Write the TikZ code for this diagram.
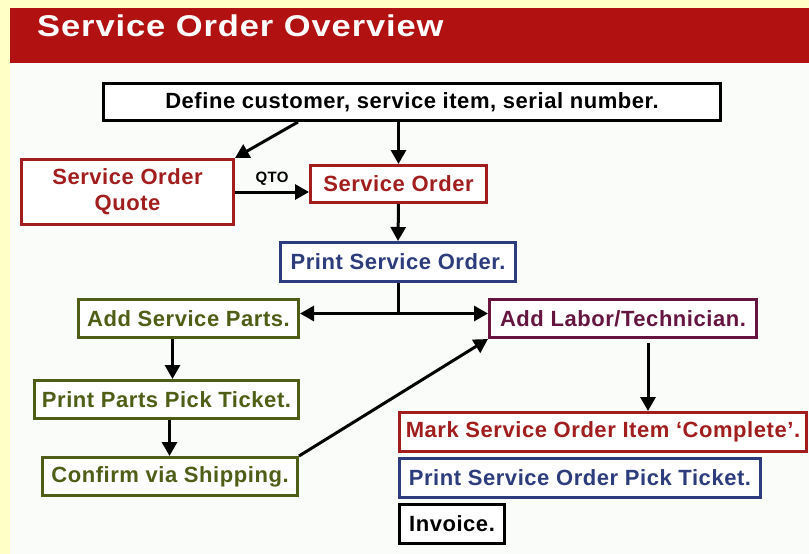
\documentclass[tikz,border=0pt]{standalone}
\usepackage{fontspec}
\setmainfont[LetterSpace=2.5]{Liberation Sans}
\newfontfamily\titlefont[FakeStretch=1.15,LetterSpace=3]{Liberation Sans}
\usetikzlibrary{arrows.meta}
\definecolor{sored}{HTML}{A21D1D}
\definecolor{barred}{HTML}{B21111}
\definecolor{sonavy}{HTML}{2C3C7C}
\definecolor{soolive}{HTML}{4E5E16}
\definecolor{somaroon}{HTML}{651540}
\definecolor{pale}{HTML}{FFFFC6}
\definecolor{paper}{HTML}{FAFCFA}

\begin{document}
\begin{tikzpicture}[x=1pt,y=-1pt,
	every node/.style={font=\bfseries\fontsize{22}{26}\selectfont, inner sep=0pt},
	box/.style={draw, line width=3pt, fill=white, minimum height=38pt, align=center},
	redbox/.style={box, draw=sored, text=sored},
	navybox/.style={box, draw=sonavy, text=sonavy},
	olivebox/.style={box, draw=soolive, text=soolive},
	maroonbox/.style={box, draw=somaroon, text=somaroon},
	arr/.style={line width=3pt, -{Triangle[length=14pt,width=15pt]}}]
	\useasboundingbox (0,0) rectangle (809,554);
	\fill[pale] (0,0) rectangle (809,554);
	\fill[paper] (10,63) rectangle (809,554);
	\fill[barred] (10,8) rectangle (809,63);
	\node[anchor=base west, text=white, font=\titlefont\bfseries\fontsize{30}{34}\selectfont] (title) at (37,36) {Service Order Overview};

	\node[box, minimum width=617pt, minimum height=37pt] (define) at (412,102) {Define customer, service item, serial number.};
	\node[redbox, minimum width=212pt, minimum height=65pt] (quote) at (127.5,192) {Service Order\\Quote};
	\node[redbox, minimum width=176pt, minimum height=37pt] (order) at (398.5,184) {Service Order};
	\node[navybox, minimum width=235pt, minimum height=39pt] (print) at (398,262) {Print Service Order.};
	\node[olivebox, minimum width=220pt] (parts) at (188.5,318.5) {Add Service Parts.};
	\node[olivebox, minimum width=264pt] (pick) at (166.5,399.5) {Print Parts Pick Ticket.};
	\node[olivebox, minimum width=255pt] (confirm) at (170,476.5) {Confirm via Shipping.};
	\node[maroonbox, minimum width=267pt] (labor) at (623,318.5) {Add Labor/Technician.};
	\node[redbox, minimum width=407pt, minimum height=39pt] (mark) at (603,432) {Mark Service Order Item ‘Complete’.};
	\node[navybox, minimum width=361pt, minimum height=39pt] (ticket) at (580,478) {Print Service Order Pick Ticket.};
	\node[box, minimum width=105pt, minimum height=39pt] (invoice) at (452,524) {Invoice.};

	\draw[arr] ([xshift=-114pt]define.south) -- (quote.north east);
	\draw[arr] (define.south -| order.north) -- (order.north);
	\draw[arr] (quote.east) -- (quote.east -| order.west) node[midway, above=5pt, font=\bfseries\fontsize{15}{17}\selectfont] (qto) {QTO};
	\draw[arr] (order.south) -- (print.north);
	\coordinate (split) at ([yshift=5pt]print.south |- parts.east);
	\draw[line width=3pt] (print.south) -- (split);
	\draw[arr] (split) -- (split -| parts.east);
	\draw[arr] (split) -- (split -| labor.west);
	\draw[arr] ([xshift=-16pt]parts.south) -- ([xshift=-16pt]parts.south |- pick.north);
	\draw[arr] ([xshift=3pt]pick.south) -- ([xshift=3pt]pick.south |- confirm.north);
	\draw[arr] (confirm.north east) -- (labor.south west);
	\draw[arr] ([xshift=25pt,yshift=-4pt]labor.south) -- ([xshift=25pt]labor.south |- mark.north);
\end{tikzpicture}
\end{document}
